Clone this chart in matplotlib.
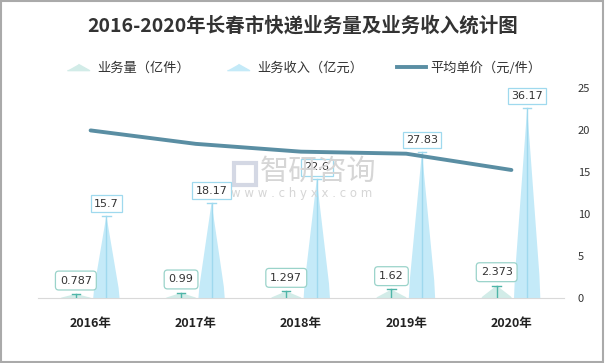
import matplotlib
matplotlib.use("Agg")
import matplotlib.pyplot as plt
from matplotlib.lines import Line2D
from matplotlib.patches import Polygon, Rectangle

plt.rcParams["font.family"] = ["Noto Sans CJK SC", "DejaVu Sans"]

YEARS = ["2016年", "2017年", "2018年", "2019年", "2020年"]
VOLUME = [0.787, 0.99, 1.297, 1.62, 2.373]      # 业务量（亿件）
REVENUE = [15.7, 18.17, 22.6, 27.83, 36.17]     # 业务收入（亿元）
PRICE = [19.95, 18.35, 17.42, 17.18, 15.24]     # 平均单价（元/件）

VOL_FILL = "#d2ece8"
VOL_LINE = "#4fb5a8"
REV_FILL = "#c4eaf8"
REV_LINE = "#9fd9ee"
PRICE_COLOR = "#5a8ea3"


def spike(ax, x, h, half, fill):
    pts = [(x - half, 0), (x - half * 0.93, h * 0.12), (x, h),
           (x + half * 0.93, h * 0.12), (x + half, 0)]
    ax.add_patch(Polygon(pts, closed=True, facecolor=fill, edgecolor="none", zorder=2))


def main() -> None:
    fig = plt.figure(figsize=(6.05, 3.63), dpi=100)
    ax = fig.add_axes([38 / 605, 1 - 298 / 363, 526 / 605, 210 / 363])
    ax.set_facecolor("none")
    ax2 = ax.twinx()

    ax.set_xlim(-0.5, len(YEARS) - 0.5)
    ax.set_ylim(0, 40)
    ax2.set_ylim(0, 25)

    for i, (v, r) in enumerate(zip(VOLUME, REVENUE)):
        xv, xr = i - 0.14, i + 0.15
        spike(ax, xv, v, 0.145, VOL_FILL)
        ax.plot([xv, xv], [0, v], color=VOL_LINE, lw=1, zorder=3)
        ax.plot([xv - 0.04, xv + 0.04], [v, v], color=VOL_LINE, lw=1, zorder=3)
        spike(ax, xr, r, 0.125, REV_FILL)
        ax.plot([xr, xr], [0, r], color=REV_LINE, lw=1, zorder=3)
        ax.plot([xr - 0.04, xr + 0.04], [r, r], color=REV_LINE, lw=1, zorder=3)
        ax.annotate(f"{r:g}", (xr, r), xytext=(0, 5), textcoords="offset points",
                    ha="center", va="bottom", fontsize=8, color="#333333",
                    family=["DejaVu Sans"], annotation_clip=False, zorder=5,
                    bbox=dict(boxstyle="square,pad=0.3", fc="white", ec=REV_LINE, lw=0.9))
        ax.annotate(f"{v:g}", (xv, v), xytext=(0, 6), textcoords="offset points",
                    ha="center", va="bottom", fontsize=8, color="#333333",
                    family=["DejaVu Sans"], annotation_clip=False, zorder=5,
                    bbox=dict(boxstyle="round,pad=0.4,rounding_size=0.3", fc="white",
                              ec="#9ad3ca", lw=0.9))

    ax2.plot(range(len(YEARS)), PRICE, color=PRICE_COLOR, lw=2.8, solid_capstyle="round", zorder=4)

    ax.set_xticks(range(len(YEARS)), YEARS)
    for lab in ax.get_xticklabels():
        lab.set_fontweight("bold")
        lab.set_fontsize(9)
        lab.set_color("#222222")
    ax.tick_params(axis="x", length=0, pad=14)
    ax.set_yticks([])
    ax2.set_yticks([0, 5, 10, 15, 20, 25])
    ax2.tick_params(axis="y", length=0, pad=10, labelsize=8, labelcolor="#333333")
    for lab in ax2.get_yticklabels():
        lab.set_horizontalalignment("left")
    for a in (ax, ax2):
        for s in a.spines.values():
            s.set_visible(False)
    ax.spines["bottom"].set_visible(True)
    ax.spines["bottom"].set_color("#d9d9d9")

    # watermark
    fig.add_artist(Rectangle((234 / 605, 1 - 185 / 363), 22 / 605, 22 / 363,
                             transform=fig.transFigure, fill=False, ec="#d4d8e4", lw=3, zorder=0))
    fig.text(318 / 605, 1 - 172 / 363, "智研咨询", fontsize=21, color="#d6d6d6",
             ha="center", va="center", zorder=0)
    fig.text(302 / 605, 1 - 194 / 363, "w w w . c h y x x . c o m", fontsize=8.5, color="#d6d6d6",
             ha="center", va="center", family=["DejaVu Sans"], zorder=0)

    fig.text(0.5, 1 - 26 / 363, "2016-2020年长春市快递业务量及业务收入统计图", fontsize=14,
             fontweight="bold", color="#333333", ha="center", va="center")

    flat_tri = [(-1.6, -0.45), (1.6, -0.45), (0, 0.45)]
    handles = [
        Line2D([], [], ls="none", marker=flat_tri, markersize=16, color=VOL_FILL),
        Line2D([], [], ls="none", marker=flat_tri, markersize=16, color=REV_FILL),
        Line2D([], [], color=PRICE_COLOR, lw=2.8),
    ]
    labels = ["业务量（亿件）", "业务收入（亿元）", "平均单价（元/件）"]
    fig.legend(handles, labels, loc="center", bbox_to_anchor=(0.5, 1 - 68 / 363), ncol=3,
               frameon=False, fontsize=9.5, handlelength=2.2, columnspacing=2.6,
               handletextpad=0.3, labelcolor="#333333")

    fig.add_artist(Rectangle((0.001, 0.002), 0.996, 0.995, transform=fig.transFigure,
                             fill=False, ec="#aaaaaa", lw=1.5))
    fig.savefig("out.png", dpi=100)


if __name__ == "__main__":
    main()
